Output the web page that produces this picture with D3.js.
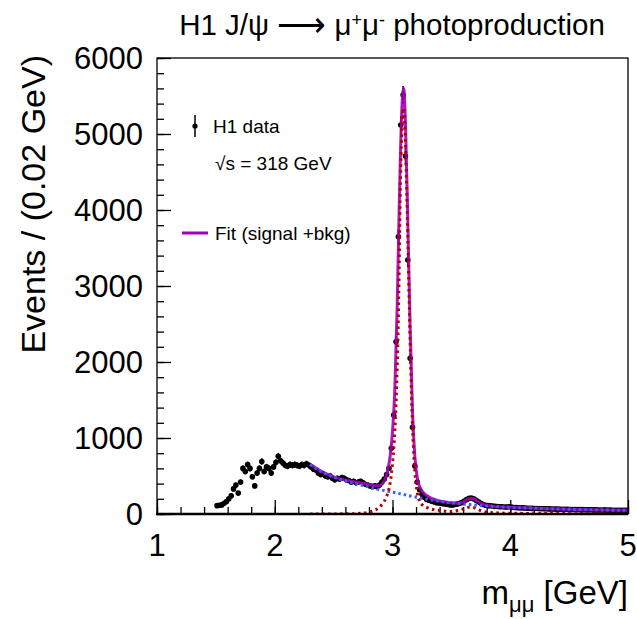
<!DOCTYPE html>
<html lang="en">
<head>
<meta charset="UTF-8">
<title>H1 J/psi photoproduction</title>
<script src="https://cdn.jsdelivr.net/npm/d3@7"></script>
<style>
  body { margin: 0; background: #fff; }
  text { font-family: "Liberation Sans", Arial, Helvetica, sans-serif; fill: #000; }
</style>
</head>
<body>
<script>
// histogram: bins of 0.02 GeV, first bin centre 1.51 GeV
const binStart = 1.51
const binWidth = 0.02
const counts = [
  110, 115, 120, 140, 165, 200, 240, 330, 380, 275,
  420, 600, 560, 650, 600, 490, 370, 540, 600, 690,
  560, 620, 600, 540, 620, 680, 760, 700, 670, 640,
  630, 650, 640, 650, 640, 630, 650, 640, 660, 640,
  620, 590, 580, 540, 520, 530, 500, 490, 500, 470,
  450, 470, 460, 480, 470, 450, 440, 420, 430, 410,
  420, 430, 410, 390, 380, 370, 360, 370, 360, 380,
  420, 460, 520, 601, 864, 1303, 2267, 3649, 5118, 5513,
  4711, 3342, 2049, 1141, 632, 420, 320, 260, 220, 190,
  180, 170, 160, 150, 145, 140, 135, 130, 125, 120,
  120, 125, 130, 140, 150, 170, 190, 205, 210, 200,
  180, 160, 140, 125, 115, 110, 108, 105, 100, 98,
  96, 95, 92, 90, 95, 90, 85, 84, 82, 80,
  80, 78, 76, 75, 74, 72, 72, 70, 70, 68,
  68, 67, 66, 66, 64, 64, 63, 62, 62, 61,
  60, 60, 59, 58, 58, 57, 56, 56, 55, 55,
  54, 54, 53, 53, 52, 52, 51, 51, 50, 50,
  50, 49, 49, 48, 48
]

// fit (signal + bkg)
const fitX = [2.30, 2.35, 2.40, 2.45, 2.50, 2.55, 2.60, 2.65, 2.70, 2.75, 2.80, 2.85, 2.88, 2.91, 2.94, 2.96, 2.98,
  3.00, 3.02, 3.04, 3.06, 3.08, 3.095, 3.11, 3.13, 3.15, 3.17, 3.19, 3.21, 3.23, 3.26, 3.30, 3.35, 3.40, 3.45,
  3.50, 3.55, 3.60, 3.63, 3.66, 3.69, 3.72, 3.75, 3.80, 3.85, 3.90, 4.00, 4.20, 4.40, 4.60, 4.80, 5.00]
const fitY = [655, 605, 560, 520, 488, 465, 448, 432, 418, 405, 390, 375, 372, 395, 470, 580, 760,
  1080, 1650, 2750, 4250, 5350, 5600, 5150, 3850, 2450, 1350, 760, 480, 360, 285, 235, 195, 172, 157,
  147, 142, 160, 185, 205, 200, 170, 140, 112, 102, 96, 88, 76, 66, 58, 52, 48]

// background
const bkgX = [2.30, 2.40, 2.50, 2.60, 2.70, 2.80, 2.90, 3.00, 3.10, 3.20, 3.30, 3.40, 3.50, 3.60, 3.70, 3.80,
  3.90, 4.00, 4.20, 4.40, 4.60, 4.80, 5.00]
const bkgY = [650, 555, 485, 435, 395, 355, 318, 288, 255, 222, 192, 167, 147, 131, 117, 106,
  96, 88, 76, 66, 58, 52, 48]

// signal (J/psi + psi(2S))
const sigX = [2.30, 2.60, 2.70, 2.80, 2.85, 2.89, 2.92, 2.95, 2.97, 2.99, 3.01, 3.03, 3.05, 3.07, 3.09, 3.095,
  3.11, 3.13, 3.15, 3.17, 3.19, 3.21, 3.23, 3.26, 3.30, 3.35, 3.40, 3.45, 3.50, 3.55, 3.60, 3.65, 3.68,
  3.72, 3.78, 3.85, 4.00, 4.50, 5.00]
const sigY = [0, 2, 6, 25, 50, 90, 145, 230, 330, 520, 850, 1450, 2600, 4550, 5320, 5340,
  4900, 3650, 2250, 1150, 560, 280, 170, 110, 80, 58, 45, 36, 33, 45, 65, 88, 88,
  62, 32, 18, 10, 5, 3]

const xTicks = [1, 2, 3, 4, 5]
const yTicks = [0, 1000, 2000, 3000, 4000, 5000, 6000]

const width = 637
const height = 619
const margin = { top: 58, right: 9, bottom: 105, left: 157 }

const x = d3.scaleLinear().domain([1, 5]).range([margin.left, width - margin.right])
const y = d3.scaleLinear().domain([0, 6000]).range([height - margin.bottom, margin.top])

const svg = d3.select('body').append('svg')
  .attr('width', width)
  .attr('height', height)

svg.append('clipPath').attr('id', 'frame')
  .append('rect')
  .attr('x', margin.left).attr('y', margin.top)
  .attr('width', x(5) - x(1)).attr('height', y(0) - y(6000))

// ticks, drawn inside the frame like ROOT
const xAxis = d3.axisTop(x).tickValues(xTicks).tickSize(14).tickFormat('')
const xMinor = d3.axisTop(x).tickValues(d3.range(1, 5.001, 0.2)).tickSize(7).tickFormat('')
const yAxis = d3.axisRight(y).tickValues(yTicks).tickSize(14).tickFormat('')
const yMinor = d3.axisRight(y).tickValues(d3.range(0, 6001, 200)).tickSize(7).tickFormat('')

for (const ax of [xAxis, xMinor]) {
  svg.append('g').attr('transform', `translate(0,${y(0)})`).call(ax)
    .call(g => g.select('.domain').remove())
}
for (const ax of [yAxis, yMinor]) {
  svg.append('g').attr('transform', `translate(${x(1)},0)`).call(ax)
    .call(g => g.select('.domain').remove())
}
svg.selectAll('.tick line').attr('stroke', '#000').attr('stroke-width', 1.3)

// tick labels
svg.append('g').selectAll('text').data(xTicks).join('text')
  .attr('x', d => x(d)).attr('y', 556)
  .attr('text-anchor', 'middle')
  .attr('font-size', 31)
  .text(d => d)

svg.append('g').selectAll('text').data(yTicks).join('text')
  .attr('x', 143).attr('y', d => y(d) + 11)
  .attr('text-anchor', 'end')
  .attr('font-size', 31)
  .text(d => d)

// data points
const pts = counts.map((c, i) => ({ m: binStart + i * binWidth, n: c }))
const plot = svg.append('g').attr('clip-path', 'url(#frame)')

plot.append('g').selectAll('line').data(pts).join('line')
  .attr('x1', d => x(d.m)).attr('x2', d => x(d.m))
  .attr('y1', d => y(d.n - 1.6 * Math.sqrt(d.n)))
  .attr('y2', d => y(d.n + 1.6 * Math.sqrt(d.n)))
  .attr('stroke', '#000').attr('stroke-width', 1.5)

plot.append('g').selectAll('circle').data(pts).join('circle')
  .attr('cx', d => x(d.m)).attr('cy', d => y(d.n))
  .attr('r', 2.8)
  .attr('fill', '#000')

// curves
const line = d3.line().x(d => x(d[0])).y(d => y(d[1])).curve(d3.curveMonotoneX)

plot.append('path')
  .datum(d3.zip(fitX, fitY))
  .attr('d', line)
  .attr('fill', 'none')
  .attr('stroke', '#a200b4')
  .attr('stroke-opacity', 0.9)
  .attr('stroke-width', 3)

plot.append('path')
  .datum(d3.zip(bkgX, bkgY))
  .attr('d', line)
  .attr('fill', 'none')
  .attr('stroke', '#3c5aff')
  .attr('stroke-width', 3)
  .attr('stroke-dasharray', '2.5,3')

plot.append('path')
  .datum(d3.zip(sigX, sigY))
  .attr('d', line)
  .attr('fill', 'none')
  .attr('stroke', '#b40000')
  .attr('stroke-width', 3)
  .attr('stroke-dasharray', '2.5,3.5')

// frame
svg.append('rect')
  .attr('x', x(1)).attr('y', y(6000))
  .attr('width', x(5) - x(1)).attr('height', y(0) - y(6000))
  .attr('fill', 'none')
  .attr('stroke', '#000')
  .attr('stroke-width', 1.3)
svg.append('line')
  .attr('x1', x(1) - 1).attr('x2', x(5))
  .attr('y1', y(0)).attr('y2', y(0))
  .attr('stroke', '#000').attr('stroke-width', 2.5)

// titles
svg.append('text')
  .attr('x', 392).attr('y', 35)
  .attr('text-anchor', 'middle')
  .attr('font-size', 29.5)
  .html('H1 J/ψ <tspan font-size="34" dy="1">⟶</tspan><tspan dy="-1"> μ</tspan><tspan dy="-9" font-size="18">+</tspan><tspan dy="9">μ</tspan><tspan dy="-9" font-size="18">-</tspan><tspan dy="9"> photoproduction</tspan>')

svg.append('text')
  .attr('x', 628).attr('y', 604)
  .attr('text-anchor', 'end')
  .attr('font-size', 33)
  .html('m<tspan dy="8" font-size="22">μμ</tspan><tspan dy="-8"> [GeV]</tspan>')

svg.append('text')
  .attr('transform', 'translate(45,55) rotate(-90)')
  .attr('text-anchor', 'end')
  .attr('font-size', 34)
  .text('Events / (0.02 GeV)')

// legend
const leg = svg.append('g')
leg.append('line')
  .attr('x1', 195).attr('x2', 195).attr('y1', 115).attr('y2', 137)
  .attr('stroke', '#000').attr('stroke-width', 1.5)
leg.append('circle').attr('cx', 195).attr('cy', 126).attr('r', 2.6).attr('fill', '#000')
leg.append('text').attr('x', 213).attr('y', 133).attr('font-size', 19).text('H1 data')
leg.append('text').attr('x', 215).attr('y', 170).attr('font-size', 19).text('√s = 318 GeV')
leg.append('line')
  .attr('x1', 182).attr('x2', 208).attr('y1', 233).attr('y2', 233)
  .attr('stroke', '#a200b4').attr('stroke-width', 3)
leg.append('text').attr('x', 215).attr('y', 240).attr('font-size', 19).text('Fit (signal +bkg)')
</script>
</body>
</html>
